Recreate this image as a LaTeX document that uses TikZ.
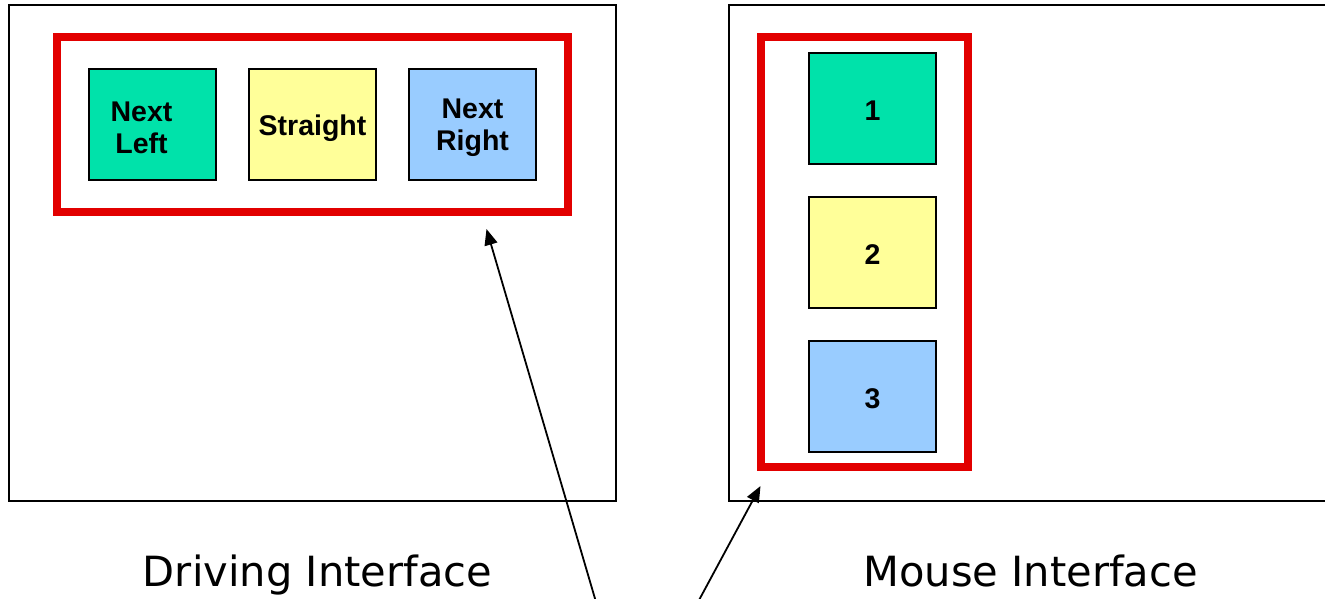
\documentclass[tikz,border=0pt]{standalone}
\usepackage{fontspec}
\setmainfont{Liberation Sans}
\newfontfamily\lblfont{DejaVu Sans}
\usetikzlibrary{arrows.meta}
\definecolor{btngreen}{RGB}{0,226,170}
\definecolor{btnyellow}{RGB}{255,255,153}
\definecolor{btnblue}{RGB}{153,204,255}
\definecolor{hired}{RGB}{226,0,0}
\tikzset{
  panel/.style={draw=black, line width=2pt},
  group/.style={draw=hired, line width=8pt, rectangle, inner sep=0pt},
  btn/.style={draw=black, line width=2pt, rectangle, inner sep=0pt, minimum width=127pt, minimum height=111pt},
  btntext/.style={font=\fontsize{28.5}{32}\selectfont\bfseries, align=center, inner sep=0pt},
  biglabel/.style={font=\lblfont\fontsize{41.6}{48}\selectfont, inner sep=0pt, anchor=base},
  pointer/.style={draw=black, line width=1.8pt, -{Triangle[length=16pt,width=13pt]}}
}
\begin{document}
\begin{tikzpicture}[x=1pt,y=-1pt]
\useasboundingbox (0,0) rectangle (1325,599);
\fill[white] (0,0) rectangle (1325,599);
% panels
\draw[panel] (9,5) rectangle (616,501);
\draw[panel] (1326,5) -- (729,5) -- (729,501) -- (1326,501);
% red groups
\node[group, minimum width=511pt, minimum height=175pt] (gdrive) at (312.5,124.5) {};
\node[group, minimum width=207pt, minimum height=430pt] (gmouse) at (864.5,252) {};
% driving buttons
\node[btn, fill=btngreen] (bleft) at (152.5,124.5) {};
\node[btn, fill=btnyellow] (bstraight) at (312.5,124.5) {};
\node[btn, fill=btnblue] (bright) at (472.5,124.5) {};
\node[btntext] (tleft) at ([xshift=-11pt,yshift=-3pt]bleft.center) {Next\\Left};
\node[btntext] (tstraight) at ([yshift=-4pt]bstraight.center) {Straight};
\node[btntext] (tright) at ([yshift=-3pt]bright.center) {Next\\Right};
% mouse buttons
\node[btn, fill=btngreen] (m1) at (872.5,108.5) {};
\node[btn, fill=btnyellow] (m2) at (872.5,252.5) {};
\node[btn, fill=btnblue] (m3) at (872.5,396.5) {};
\node[btntext] (t1) at ([yshift=-2pt]m1.center) {1};
\node[btntext] (t2) at ([yshift=-2pt]m2.center) {2};
\node[btntext] (t3) at ([yshift=-2pt]m3.center) {3};
% labels
\node[biglabel] (ldrive) at (317.5,586) {Driving Interface};
\node[biglabel] (lmouse) at (1030.5,586) {Mouse Interface};
% pointers
\coordinate (p1start) at (596,602);
\coordinate (p1end) at (486.5,229);
\coordinate (p2start) at (698,602);
\coordinate (p2end) at (760.5,486);
\draw[pointer] (p1start) -- (p1end);
\draw[pointer] (p2start) -- (p2end);
\end{tikzpicture}
\end{document}
